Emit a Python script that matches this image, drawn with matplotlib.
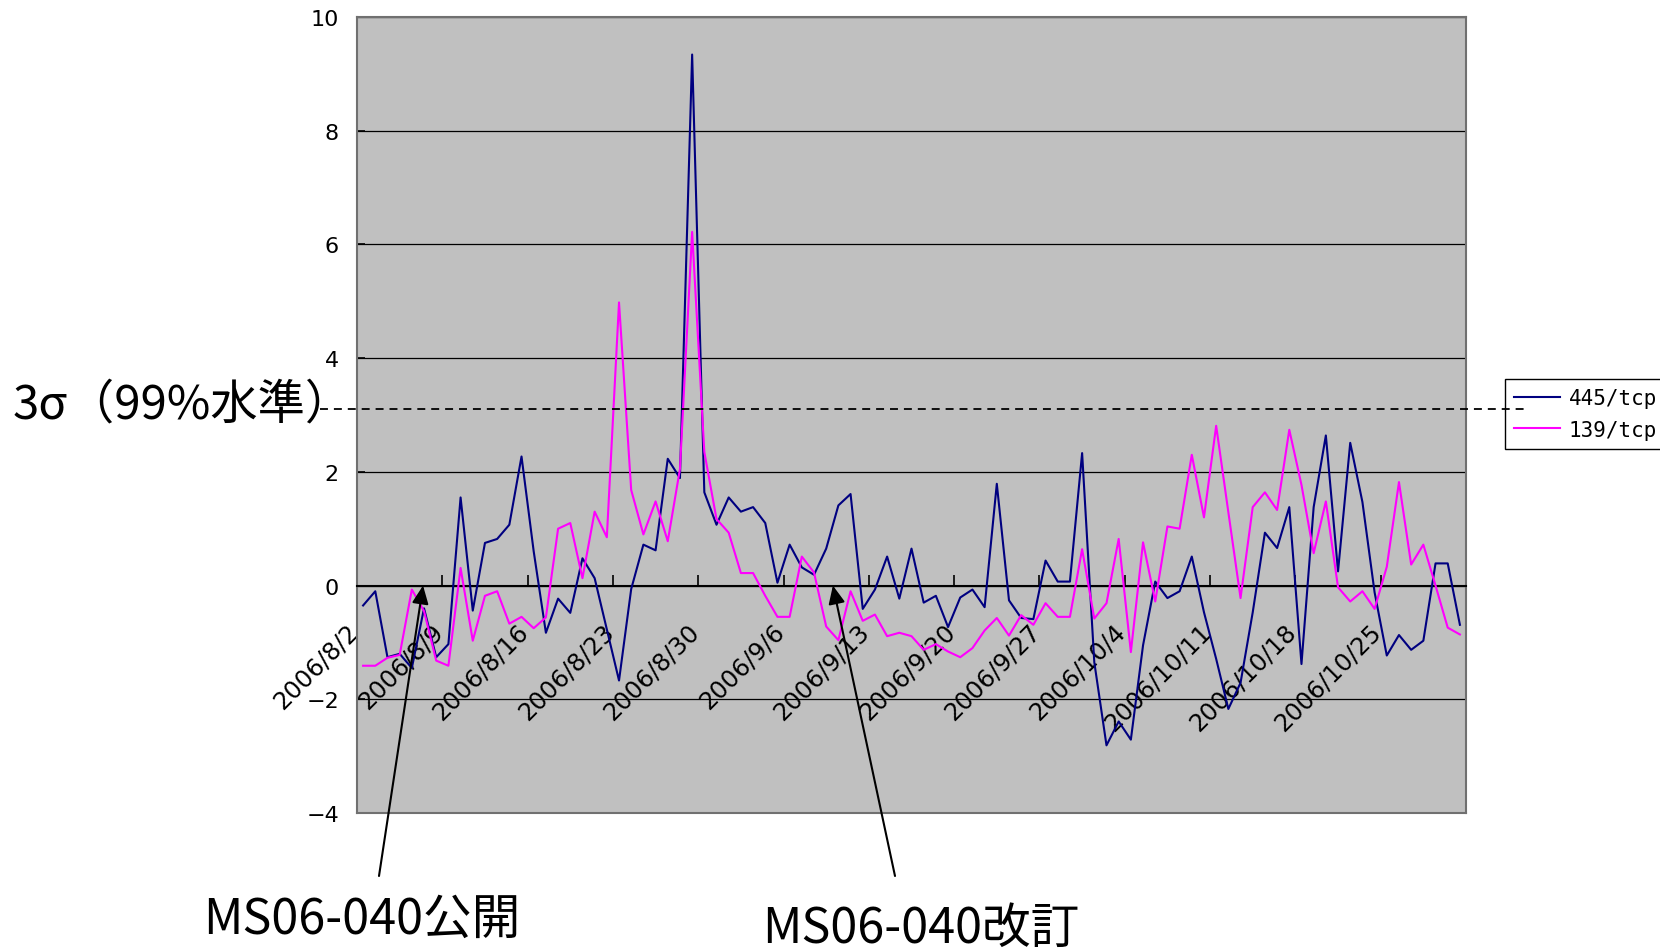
import numpy as np
import pandas as pd
import matplotlib
matplotlib.use('Agg')
import matplotlib.pyplot as plt
from matplotlib.transforms import blended_transform_factory, ScaledTranslation

# daily categories 2006/8/2 .. 2006/10/31
dates = pd.date_range('2006-08-02', '2006-10-31', freq='D')
date_labels = [f"{d.year}/{d.month}/{d.day}" for d in dates]

# standardized values
port445 = [-0.35, -0.10, -1.26, -1.20, -1.45, -0.40, -1.26, -1.03, 1.55, -0.44,
           0.75, 0.82, 1.07, 2.27, 0.60, -0.83, -0.23, -0.48, 0.48, 0.13,
           -0.77, -1.67, -0.06, 0.72, 0.62, 2.23, 1.89, 9.34, 1.64, 1.07,
           1.55, 1.30, 1.38, 1.10, 0.05, 0.72, 0.32, 0.19, 0.65, 1.41,
           1.61, -0.41, -0.07, 0.51, -0.23, 0.65, -0.30, -0.18, -0.73, -0.21,
           -0.07, -0.38, 1.79, -0.26, -0.57, -0.59, 0.44, 0.07, 0.07, 2.33,
           -1.35, -2.81, -2.39, -2.71, -1.05, 0.07, -0.22, -0.10, 0.51, -0.47,
           -1.29, -2.17, -1.71, -0.47, 0.93, 0.66, 1.38, -1.38, 1.38, 2.64,
           0.25, 2.51, 1.47, -0.12, -1.23, -0.87, -1.13, -0.97, 0.39, 0.39,
           -0.69]
port139 = [-1.41, -1.41, -1.27, -1.22, -0.07, -0.45, -1.32, -1.41, 0.31, -0.97,
           -0.18, -0.10, -0.67, -0.55, -0.75, -0.56, 1.00, 1.10, 0.13, 1.30,
           0.85, 4.98, 1.68, 0.90, 1.48, 0.78, 2.05, 6.22, 2.35, 1.17,
           0.93, 0.22, 0.22, -0.18, -0.55, -0.55, 0.51, 0.23, -0.72, -0.96,
           -0.10, -0.62, -0.51, -0.89, -0.83, -0.89, -1.13, -1.03, -1.16, -1.26,
           -1.10, -0.79, -0.57, -0.88, -0.52, -0.69, -0.31, -0.55, -0.55, 0.64,
           -0.58, -0.31, 0.82, -1.17, 0.76, -0.28, 1.04, 1.00, 2.30, 1.20,
           2.81, 1.29, -0.22, 1.38, 1.64, 1.33, 2.74, 1.77, 0.57, 1.48,
           -0.03, -0.28, -0.10, -0.41, 0.33, 1.82, 0.37, 0.72, 0.00, -0.74,
           -0.86]
series_names = ['445/tcp', '139/tcp']
sigma3 = 3.1
label_every = 7
# arrow targets (category position) and their captions
event_x = [4.92, 38.55]
event_text = ['MS06-040公開', 'MS06-040改訂']

W, H = 1660, 953
fig = plt.figure(figsize=(W / 100, H / 100), dpi=100)
ax = fig.add_axes([357 / W, 1 - 814 / H, 1109 / W, (814 - 18) / H])
ax.set_facecolor('#C0C0C0')

x = np.arange(len(dates))
ax.plot(x, port445, color='#000080', lw=1.5, label=series_names[0], zorder=3)
ax.plot(x, port139, color='#FF00FF', lw=1.5, label=series_names[1], zorder=3)

ax.set_xlim(-0.5, len(dates) - 0.5)
ax.set_ylim(-4, 10)
ax.set_yticks(np.arange(-4, 11, 2))
ax.yaxis.grid(True, color='black', lw=0.9)
ax.set_axisbelow(True)

# category axis crosses at 0 (must be set before styling the tick labels)
ax.spines['bottom'].set_position(('data', 0))
ax.spines['bottom'].set_color('black')
ax.spines['bottom'].set_linewidth(1.5)
for s in ['left', 'right', 'top']:
    ax.spines[s].set_color('#707070')
    ax.spines[s].set_linewidth(1.5)
ax.plot([0, 1], [0, 0], transform=ax.transAxes, color='#707070', lw=1.5,
        clip_on=False)

# tick marks between categories, labels on every 7th category
ax.set_xticks(np.arange(label_every - 0.5, len(dates), label_every))
ax.set_xticks(x[::label_every], date_labels[::label_every], minor=True)
ax.tick_params(axis='x', which='major', direction='in', length=8, width=1.2,
               labelbottom=False)
ax.tick_params(axis='x', which='minor', length=0, pad=30, labelsize=17.5)
ax.tick_params(axis='y', direction='in', length=6, width=1.2, labelsize=16, pad=13)
shift = ScaledTranslation(-0.09, 0, fig.dpi_scale_trans)
for lbl in ax.get_xticklabels(minor=True):
    lbl.set_rotation(45)
    lbl.set_ha('right')
    lbl.set_va('center')
    lbl.set_rotation_mode('anchor')
    lbl.set_transform(lbl.get_transform() + shift)

leg = ax.legend(loc='center left', bbox_to_anchor=(1505 / W, 1 - 415 / H),
                bbox_transform=fig.transFigure, fancybox=False,
                edgecolor='black', facecolor='white', framealpha=1,
                prop={'family': 'DejaVu Sans Mono', 'size': 15},
                handlelength=2.2, handletextpad=0.4, borderpad=0.45,
                labelspacing=0.55, borderaxespad=0)
leg.get_frame().set_linewidth(1.0)
leg.set_zorder(5)

# 3 sigma threshold line, runs out of the plot to the caption and the legend
trans = blended_transform_factory(ax.transAxes, ax.transData)
ax.plot([-0.0334, 1.055], [sigma3, sigma3], transform=trans, color='black',
        ls=(0, (4.4, 3.3)), lw=1.3, clip_on=False, zorder=6)

big_font = ['Noto Sans CJK JP', 'DejaVu Sans']
fig.text(13 / W, 1 - 405 / H, '3σ（99%水準）', fontsize=34, family=big_font,
         va='center', ha='left')

tails = [(379 / W, 76 / H), (895 / W, 76 / H)]
text_pos = [(203 / W, 1 - 934 / H), (762 / W, 1 - 943 / H)]
for ex, txt, tail, tp in zip(event_x, event_text, tails, text_pos):
    ax.annotate('', xy=(ex, 0), xytext=tail, textcoords='figure fraction',
                arrowprops=dict(arrowstyle='-|>,head_length=0.55,head_width=0.25',
                                mutation_scale=20, color='black', lw=1.5,
                                shrinkA=0, shrinkB=0),
                annotation_clip=False, zorder=7)
    fig.text(tp[0], tp[1], txt, fontsize=35, family=big_font, va='baseline',
             ha='left')

fig.savefig('out.png', dpi=100)
